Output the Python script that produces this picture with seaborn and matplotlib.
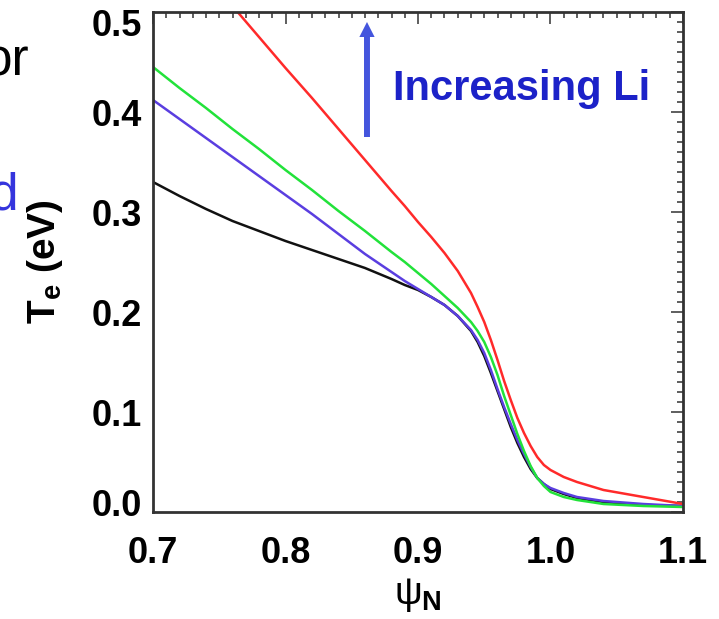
import matplotlib
matplotlib.use("Agg")
import matplotlib.pyplot as plt
import matplotlib.transforms as mtransforms
import seaborn as sns
import pandas as pd
from matplotlib.ticker import MultipleLocator

# ---- data ----
psi = [0.70, 0.72, 0.74, 0.76, 0.78, 0.80, 0.82, 0.84, 0.86, 0.88, 0.89,
       0.90, 0.91, 0.92, 0.93, 0.94, 0.945, 0.95, 0.955, 0.96, 0.965, 0.97,
       0.975, 0.98, 0.985, 0.99, 0.995, 1.00, 1.01, 1.02, 1.04, 1.07, 1.10]

te_black = [0.330, 0.316, 0.303, 0.291, 0.281, 0.271, 0.262, 0.253, 0.244, 0.233, 0.227,
            0.222, 0.215, 0.207, 0.196, 0.181, 0.170, 0.156, 0.139, 0.121, 0.103, 0.085,
            0.069, 0.055, 0.043, 0.034, 0.028, 0.023, 0.018, 0.014, 0.010, 0.007, 0.006]
te_blue = [0.412, 0.393, 0.374, 0.355, 0.336, 0.317, 0.298, 0.278, 0.258, 0.240, 0.231,
           0.223, 0.215, 0.207, 0.196, 0.182, 0.172, 0.159, 0.142, 0.123, 0.105, 0.088,
           0.072, 0.058, 0.045, 0.034, 0.028, 0.024, 0.019, 0.015, 0.011, 0.008, 0.006]
te_green = [0.445, 0.424, 0.404, 0.383, 0.363, 0.342, 0.322, 0.301, 0.281, 0.260, 0.250,
            0.239, 0.228, 0.216, 0.204, 0.190, 0.181, 0.170, 0.155, 0.137, 0.116, 0.097,
            0.078, 0.061, 0.046, 0.034, 0.026, 0.020, 0.015, 0.012, 0.008, 0.006, 0.005]
te_red = [0.599, 0.568, 0.537, 0.506, 0.475, 0.444, 0.414, 0.383, 0.352, 0.321, 0.306,
          0.290, 0.275, 0.259, 0.241, 0.219, 0.205, 0.190, 0.172, 0.152, 0.131, 0.112,
          0.094, 0.079, 0.066, 0.055, 0.047, 0.042, 0.035, 0.030, 0.022, 0.015, 0.008]

series_names = ["black", "blue", "green", "red"]
series_values = [te_black, te_blue, te_green, te_red]
series_colors = ["#111111", "#5a3ee0", "#22e23a", "#ff2a2a"]

x_ticks = [0.7, 0.8, 0.9, 1.0, 1.1]
y_ticks = [0.0, 0.1, 0.2, 0.3, 0.4, 0.5]
x_ticklabels = ["0.7", "0.8", "0.9", "1.0", "1.1"]
y_ticklabels = ["0.0", "0.1", "0.2", "0.3", "0.4", "0.5"]

rows = []
for name, vals in zip(series_names, series_values):
    for p, t in zip(psi, vals):
        rows.append({"psi": p, "Te": t, "series": name})
df = pd.DataFrame(rows)

# ---- style ----
sns.set_theme(style="white")
plt.rcParams["font.family"] = ["Liberation Sans", "DejaVu Sans"]
plt.rcParams["mathtext.fontset"] = "custom"
plt.rcParams["mathtext.rm"] = "Liberation Sans:bold"
plt.rcParams["mathtext.bf"] = "Liberation Sans:bold"
plt.rcParams["mathtext.it"] = "Liberation Sans"
plt.rcParams["mathtext.sf"] = "Liberation Sans"
plt.rcParams["text.color"] = "black"
plt.rcParams["axes.labelcolor"] = "black"
plt.rcParams["xtick.color"] = "black"
plt.rcParams["ytick.color"] = "black"

fig = plt.figure(figsize=(7.19, 6.19), dpi=100)
ax = fig.add_axes([153 / 719, 1 - 512 / 619, 530 / 719, 500 / 619])

sns.lineplot(data=df, x="psi", y="Te", hue="series", hue_order=series_names,
             palette=dict(zip(series_names, series_colors)), linewidth=1.8,
             legend=False, ax=ax, sort=False)

ax.set_xlim(0.7, 1.1)
ax.set_ylim(0.0, 0.5)
ax.set_xticks(x_ticks)
ax.set_xticklabels(x_ticklabels)
ax.set_yticks(y_ticks)
ax.set_yticklabels(y_ticklabels)
ax.xaxis.set_minor_locator(MultipleLocator(0.01))
ax.yaxis.set_minor_locator(MultipleLocator(0.01))
ax.tick_params(which="both", direction="in", top=True, right=True,
               color="#333333", labelcolor="black", width=1.1)
ax.tick_params(which="major", length=8.5)
ax.tick_params(which="minor", length=4)
ax.tick_params(axis="y", which="major", pad=8, labelsize=26)
ax.tick_params(axis="x", which="major", pad=17, labelsize=26)
for sp in ax.spines.values():
    sp.set_color("#333333")
    sp.set_linewidth(2)

ax.set_xlabel(r"$\psi_{\mathrm{N}}$", fontsize=28, labelpad=4, color="black")
ax.set_ylabel(r"T$_{\mathrm{e}}$ (eV)", fontsize=28, fontweight="bold", color="black")
ax.yaxis.set_label_coords(-0.166, 0.50)

for lab in ax.get_xticklabels() + ax.get_yticklabels():
    lab.set_fontweight("bold")
    lab.set_color("black")
# IDL-style end labels pulled inside the axis range
ylabs = ax.get_yticklabels()
ylabs[-1].set_transform(ylabs[-1].get_transform() +
                        mtransforms.ScaledTranslation(0, -0.10, fig.dpi_scale_trans))
ylabs[0].set_transform(ylabs[0].get_transform() +
                       mtransforms.ScaledTranslation(0, 0.10, fig.dpi_scale_trans))

# annotation: arrow + text
ax.arrow(0.8615, 0.375, 0, 0.115, width=0.0045, head_width=0.0115,
         head_length=0.015, length_includes_head=True, color="#4455dd", lw=0)
ax.text(0.881, 0.412, "Increasing Li", color="#1c22c8", fontsize=30,
        fontweight="bold", ha="left", va="baseline")

# stray slide text fragments at the left edge
fig.text(30 / 719, 1 - 75 / 619, "or", color="black", fontsize=37,
         ha="right", va="baseline")
fig.text(19 / 719, 1 - 210 / 619, "d", color="#3535dd", fontsize=37,
         ha="right", va="baseline")

fig.savefig("out.png", dpi=100)
